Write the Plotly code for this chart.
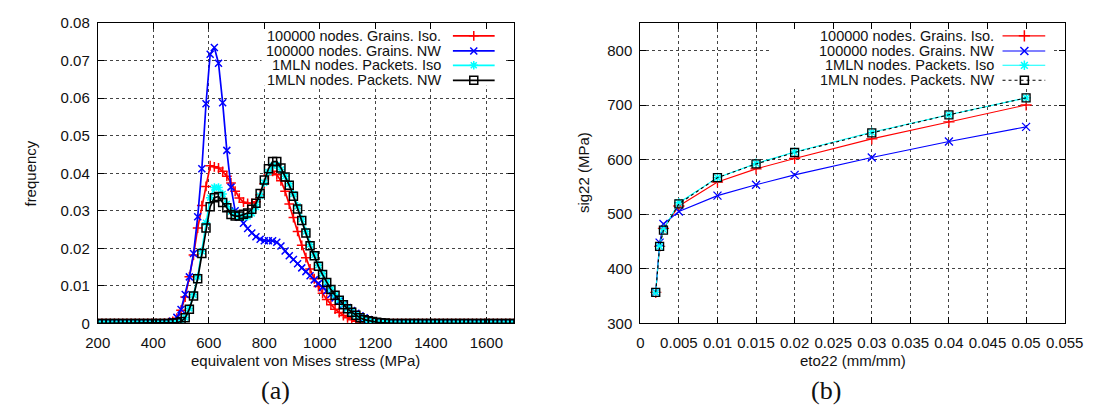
import plotly.graph_objects as go

# ---------------- (a) von Mises stress distributions ----------------
stress_bins = [
    200, 215, 230, 245, 260, 275, 290, 305, 320, 335,
    350, 365, 380, 395, 410, 425, 440, 455, 470, 485,
    500, 515, 530, 545, 560, 575, 590, 605, 620, 635,
    650, 665, 680, 695, 710, 725, 740, 755, 770, 785,
    800, 815, 830, 845, 860, 875, 890, 905, 920, 935,
    950, 965, 980, 995, 1010, 1025, 1040, 1055, 1070, 1085,
    1100, 1115, 1130, 1145, 1160, 1175, 1190, 1205, 1220, 1235,
    1250, 1265, 1280, 1295, 1310, 1325, 1340, 1355, 1370, 1385,
    1400, 1415, 1430, 1445, 1460, 1475, 1490, 1505, 1520, 1535,
    1550, 1565, 1580, 1595, 1610, 1625, 1640, 1655, 1670, 1685,
    1700,
]

freq_grains_iso = [
    0, 0, 0, 0, 0, 0, 0, 0, 0, 0,
    0, 0, 0, 0, 0, 0, 0.0001, 0.0002, 0.0005, 0.0014,
    0.0035, 0.0070, 0.0124, 0.0182, 0.0254, 0.0314, 0.0365, 0.0420, 0.0417, 0.0414,
    0.0405, 0.0392, 0.0374, 0.0352, 0.0334, 0.0323, 0.0320, 0.0320, 0.0324, 0.0342,
    0.0372, 0.0396, 0.0405, 0.0396, 0.0380, 0.0352, 0.0318, 0.0282, 0.0245, 0.0208,
    0.0175, 0.0145, 0.0119, 0.0098, 0.0080, 0.0064, 0.0050, 0.0038, 0.0029, 0.0021,
    0.0015, 0.0010, 0.0006, 0.0004, 0.0002, 0.0001, 0, 0, 0, 0,
    0, 0, 0, 0, 0, 0, 0, 0, 0, 0,
    0, 0, 0, 0, 0, 0, 0, 0, 0, 0,
    0, 0, 0, 0, 0, 0, 0, 0, 0, 0,
    0,
]

freq_grains_nw = [
    0, 0, 0, 0, 0, 0, 0, 0, 0, 0,
    0, 0, 0, 0, 0, 0, 0.0001, 0.0002, 0.0006, 0.0016,
    0.0037, 0.0077, 0.0124, 0.0186, 0.0284, 0.0412, 0.0585, 0.0717, 0.0735, 0.0693,
    0.0588, 0.0461, 0.0363, 0.0300, 0.0283, 0.0267, 0.0253, 0.0241, 0.0231, 0.0224,
    0.0220, 0.0220, 0.0220, 0.0216, 0.0206, 0.0193, 0.0180, 0.0170, 0.0159, 0.0148,
    0.0138, 0.0127, 0.0116, 0.0106, 0.0096, 0.0087, 0.0077, 0.0068, 0.0059, 0.0050,
    0.0042, 0.0034, 0.0027, 0.0020, 0.0015, 0.0010, 0.0006, 0.0004, 0.0002, 0.0001,
    0, 0, 0, 0, 0, 0, 0, 0, 0, 0,
    0, 0, 0, 0, 0, 0, 0, 0, 0, 0,
    0, 0, 0, 0, 0, 0, 0, 0, 0, 0,
    0,
]

freq_packets_iso = [
    0, 0, 0, 0, 0, 0, 0, 0, 0, 0,
    0, 0, 0, 0, 0, 0, 0, 0, 0.0001, 0.0002,
    0.0006, 0.0016, 0.0040, 0.0076, 0.0124, 0.0192, 0.0268, 0.0335, 0.0362, 0.0362,
    0.0345, 0.0318, 0.0298, 0.0291, 0.0285, 0.0283, 0.0285, 0.0293, 0.0310, 0.0340,
    0.0375, 0.0403, 0.0420, 0.0422, 0.0410, 0.0392, 0.0372, 0.0345, 0.0312, 0.0278,
    0.0245, 0.0210, 0.0182, 0.0155, 0.0132, 0.0110, 0.0091, 0.0076, 0.0063, 0.0051,
    0.0040, 0.0031, 0.0023, 0.0016, 0.0011, 0.0007, 0.0005, 0.0003, 0.0002, 0.0001,
    0, 0, 0, 0, 0, 0, 0, 0, 0, 0,
    0, 0, 0, 0, 0, 0, 0, 0, 0, 0,
    0, 0, 0, 0, 0, 0, 0, 0, 0, 0,
    0,
]

freq_packets_nw = [
    0, 0, 0, 0, 0, 0, 0, 0, 0, 0,
    0, 0, 0, 0, 0, 0, 0, 0, 0.0001, 0.0002,
    0.0005, 0.0015, 0.0038, 0.0073, 0.0119, 0.0186, 0.0254, 0.0311, 0.0335, 0.0338,
    0.0322, 0.0308, 0.0290, 0.0286, 0.0286, 0.0291, 0.0294, 0.0304, 0.0320, 0.0346,
    0.0382, 0.0412, 0.0431, 0.0431, 0.0414, 0.0390, 0.0368, 0.0339, 0.0305, 0.0274,
    0.0241, 0.0207, 0.0180, 0.0152, 0.0130, 0.0109, 0.0090, 0.0075, 0.0062, 0.0050,
    0.0039, 0.0030, 0.0022, 0.0015, 0.0010, 0.0007, 0.0005, 0.0003, 0.0002, 0.0001,
    0, 0, 0, 0, 0, 0, 0, 0, 0, 0,
    0, 0, 0, 0, 0, 0, 0, 0, 0, 0,
    0, 0, 0, 0, 0, 0, 0, 0, 0, 0,
    0,
]

# ---------------- (b) stress-strain curves ----------------
strain = [0.002, 0.0025, 0.003, 0.005, 0.01, 0.015, 0.02, 0.03, 0.04, 0.05]
sig_grains_iso = [357, 441, 474, 515, 559, 583, 602, 638, 669, 700]
sig_grains_nw = [357, 448, 482, 505, 534, 554, 572, 604, 633, 660]
sig_packets_iso = [357, 441, 472, 521, 567, 593, 614, 650, 682, 713]
sig_packets_nw = [357, 441, 471, 519, 567, 592, 613, 649, 682, 713]

series_names = [
    "100000 nodes. Grains. Iso.",
    "100000 nodes. Grains. NW",
    "1MLN nodes. Packets. Iso",
    "1MLN nodes. Packets. NW",
]

W, H = 1106, 419
FONT = "Liberation Sans"
SERIF = "Liberation Serif"
RED, BLUE, CYAN, BLACK = "#ff0000", "#0000ff", "#00ffff", "#000000"

styles_a = [
    dict(color=RED, symbol="cross-thin", size=7, dash="solid"),
    dict(color=BLUE, symbol="x-thin", size=7, dash="solid"),
    dict(color=CYAN, symbol="asterisk-open", size=7, dash="solid"),
    dict(color=BLACK, symbol="square-open", size=8, dash="solid"),
]
styles_b = [
    dict(color=RED, symbol="cross-thin", size=8, dash="solid"),
    dict(color=BLUE, symbol="x-thin", size=8, dash="solid"),
    dict(color=CYAN, symbol="asterisk-open", size=8, dash="solid"),
    dict(color=BLACK, symbol="square-open", size=8, dash="dot"),
]

fig = go.Figure()

freq_series = [freq_grains_iso, freq_grains_nw, freq_packets_iso, freq_packets_nw]
for name, ys, st in zip(series_names, freq_series, styles_a):
    fig.add_trace(go.Scatter(
        x=stress_bins, y=ys, name=name, mode="lines+markers",
        line=dict(color=st["color"], width=1.7, dash=st["dash"]),
        marker=dict(symbol=st["symbol"], size=st["size"], color=st["color"],
                    line=dict(color=st["color"], width=1.5)),
        xaxis="x", yaxis="y", showlegend=False,
    ))

sig_series = [sig_grains_iso, sig_grains_nw, sig_packets_iso, sig_packets_nw]
for name, ys, st in zip(series_names, sig_series, styles_b):
    fig.add_trace(go.Scatter(
        x=strain, y=ys, name=name, mode="lines+markers",
        line=dict(color=st["color"], width=1.1, dash=st["dash"]),
        marker=dict(symbol=st["symbol"], size=st["size"], color=st["color"],
                    line=dict(color=st["color"], width=1.3)),
        xaxis="x2", yaxis="y2", showlegend=False,
    ))


def px_x(p):
    return p / W


def px_y(p):
    return 1 - p / H


# key entries (text right-aligned, sample to the right), drawn in pixel space
key_rows = [28, 43.7, 58.7, 74.3]
keys = [
    dict(text_right=443, line=(453, 496), mark=474.5, styles=styles_a, lw=1.7),
    dict(text_right=1012, line=(1019, 1063), mark=1041.5, styles=styles_b, lw=1.1),
]
annotations = []
for key in keys:
    for row, name, st in zip(key_rows, series_names, key["styles"]):
        annotations.append(dict(
            text=name, x=px_x(key["text_right"]), y=px_y(row),
            xref="paper", yref="paper", xanchor="right", yanchor="middle",
            showarrow=False, font=dict(family=FONT, size=14.5, color="#111"),
        ))
        fig.add_trace(go.Scatter(
            x=list(key["line"]), y=[row, row], mode="lines",
            line=dict(color=st["color"], width=key["lw"], dash=st["dash"]),
            xaxis="x3", yaxis="y3", showlegend=False, hoverinfo="skip",
        ))
        fig.add_trace(go.Scatter(
            x=[key["mark"]], y=[row], mode="markers",
            marker=dict(symbol=st["symbol"], size=st["size"], color=st["color"],
                        line=dict(color=st["color"], width=1.5)),
            xaxis="x3", yaxis="y3", showlegend=False, hoverinfo="skip",
        ))

# axis titles and panel captions
title_font = dict(family=FONT, size=15, color="#111")
caption_font = dict(family=SERIF, size=26, color="#111")
annotations += [
    dict(text="frequency", x=px_x(18), y=px_y(171), textangle=-90, font=title_font),
    dict(text="equivalent von Mises stress (MPa)", x=px_x(301), y=px_y(366), font=title_font),
    dict(text="sig22 (MPa)", x=px_x(587), y=px_y(171), textangle=-90, font=title_font),
    dict(text="eto22 (mm/mm)", x=px_x(865), y=px_y(366), font=title_font),
    dict(text="(a)", x=px_x(270), y=px_y(398), font=caption_font),
    dict(text="(b)", x=px_x(837), y=px_y(398), font=caption_font),
]
for a in annotations[-6:]:
    a.update(xref="paper", yref="paper", xanchor="center", yanchor="middle", showarrow=False)

axis_common = dict(
    showline=True, linecolor="#000", linewidth=1, mirror="ticks",
    ticks="inside", ticklen=6, tickwidth=1, tickcolor="#000",
    showgrid=True, gridcolor="#444", griddash="dot", gridwidth=1,
    zeroline=False, tickfont=dict(family=FONT, size=15, color="#111"),
    fixedrange=True,
)

y_dom = [px_y(327.7), px_y(14.7)]

fig.update_layout(
    width=W, height=H, autosize=False,
    margin=dict(l=0, r=0, t=0, b=0),
    paper_bgcolor="white", plot_bgcolor="rgba(0,0,0,0)",
    font=dict(family=FONT),
    annotations=annotations,
    xaxis=dict(axis_common, domain=[px_x(87.3), px_x(516)], range=[200, 1700],
               tickvals=[200, 400, 600, 800, 1000, 1200, 1400, 1600],
               ticklabelstandoff=6, anchor="y"),
    yaxis=dict(axis_common, domain=y_dom, range=[0, 0.08],
               tickvals=[0, 0.01, 0.02, 0.03, 0.04, 0.05, 0.06, 0.07, 0.08],
               ticktext=["0", "0.01", "0.02", "0.03", "0.04", "0.05", "0.06", "0.07", "0.08"],
               ticklabelstandoff=4, anchor="x"),
    xaxis2=dict(axis_common, domain=[px_x(646), px_x(1083)], range=[0, 0.055],
                tickvals=[0, 0.005, 0.01, 0.015, 0.02, 0.025, 0.03, 0.035, 0.04, 0.045, 0.05, 0.055],
                ticktext=["0", "0.005", "0.01", "0.015", "0.02", "0.025", "0.03", "0.035",
                          "0.04", "0.045", "0.05", "0.055"],
                ticklabelstandoff=6, anchor="y2"),
    yaxis2=dict(axis_common, domain=y_dom, range=[300, 850],
                tickvals=[300, 400, 500, 600, 700, 800], ticklabelstandoff=4, anchor="x2"),
    xaxis3=dict(domain=[0, 1], range=[0, W], visible=False, fixedrange=True, anchor="y3"),
    yaxis3=dict(domain=[0, 1], range=[H, 0], visible=False, fixedrange=True, anchor="x3"),
    shapes=[
        # opaque key backgrounds hide the grid beneath the keys
        dict(type="rect", xref="x", yref="y", x0=790, x1=1660, y0=0.0633, y1=0.08,
             fillcolor="white", line=dict(width=0), layer="between"),
        dict(type="rect", xref="x2", yref="y2", x0=0.0169, x1=0.0534, y0=733, y1=850,
             fillcolor="white", line=dict(width=0), layer="between"),
    ],
)

fig.write_html("out.html")
